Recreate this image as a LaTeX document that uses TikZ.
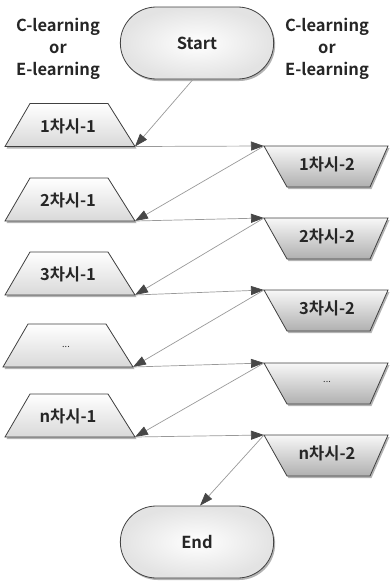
\documentclass[tikz,border=0pt]{standalone}
\usepackage{fontspec}
\setmainfont{Noto Sans CJK KR}[BoldFont={Noto Sans CJK KR Bold}]
\usetikzlibrary{shapes.misc,shadows,arrows.meta}
\tikzset{
  txt/.style={font=\bfseries\fontsize{16.5}{22}\selectfont, text=black!85},
  lbl/.style={txt, align=center},
  shad/.style={drop shadow={shadow xshift=1.5pt,shadow yshift=-2pt,fill=black!50,opacity=0.6}},
  term/.style={rounded rectangle, minimum width=160pt, minimum height=72pt, draw=black!75, line width=0.8pt,
     inner color=white, outer color=gray!22, shad, txt},
  lshape/.style={draw=black!75, line width=0.8pt, top color=white, bottom color=gray!30, shad},
  rshape/.style={draw=black!75, line width=0.8pt, top color=gray!6, bottom color=gray!62, shad},
  arr/.style={draw=gray!80, line width=0.7pt, -{Triangle[length=13pt,width=9pt,color=black!72]}}
}
\newcommand\mkLbox[4]{%
  \begin{scope}[shift={(#2,#3)}]
    \path[lshape] (-65,21.5) -- (-40,-21.5) -- (38,-21.5) -- (65,21.5) -- cycle;
    \coordinate (#1br) at (65,21.5);
    \node[txt] (#1) at (-2,1) {#4};
  \end{scope}}
\newcommand\mkRbox[4]{%
  \begin{scope}[shift={(#2,#3)}]
    \path[rshape] (-61,-20.5) -- (63,-20.5) -- (45,20.5) -- (-38,20.5) -- cycle;
    \coordinate (#1tl) at (-61,-20.5);
    \node[txt] (#1) at (2,-2) {#4};
  \end{scope}}
\begin{document}
\begin{tikzpicture}[x=1pt,y=-1pt]
\useasboundingbox (0,0) rectangle (390,582);

\node[lbl] (cl) at (58,49) {C-learning\\or\\E-learning};
\node[lbl] (cr) at (327,49) {C-learning\\or\\E-learning};

\node[term] (start) at (197,43) {Start};
\node[term] (end) at (197,542) {End};

\mkLbox{l1}{70}{125}{1차시-1}
\mkLbox{l2}{70}{199.5}{2차시-1}
\mkLbox{l3}{70}{273.5}{3차시-1}
\mkLbox{l4}{68}{345.5}{\normalfont\fontsize{9}{9}\selectfont ...}
\mkLbox{l5}{70}{415.5}{n차시-1}

\mkRbox{r1}{325}{166.5}{1차시-2}
\mkRbox{r2}{325}{238.5}{2차시-2}
\mkRbox{r3}{325}{310.5}{3차시-2}
\mkRbox{r4}{325}{383.5}{\normalfont\fontsize{9}{9}\selectfont ...}
\mkRbox{r5}{325}{455.5}{n차시-2}

\draw[arr] ([xshift=-4pt]start.south) -- (l1br);
\draw[arr] (l1br) -- (r1tl);
\draw[arr] (r1tl) -- (l2br);
\draw[arr] (l2br) -- (r2tl);
\draw[arr] (r2tl) -- (l3br);
\draw[arr] (l3br) -- (r3tl);
\draw[arr] (r3tl) -- (l4br);
\draw[arr] (l4br) -- (r4tl);
\draw[arr] (r4tl) -- (l5br);
\draw[arr] (l5br) -- (r5tl);
\draw[arr] (r5tl) -- ([xshift=3pt]end.north);
\end{tikzpicture}
\end{document}
